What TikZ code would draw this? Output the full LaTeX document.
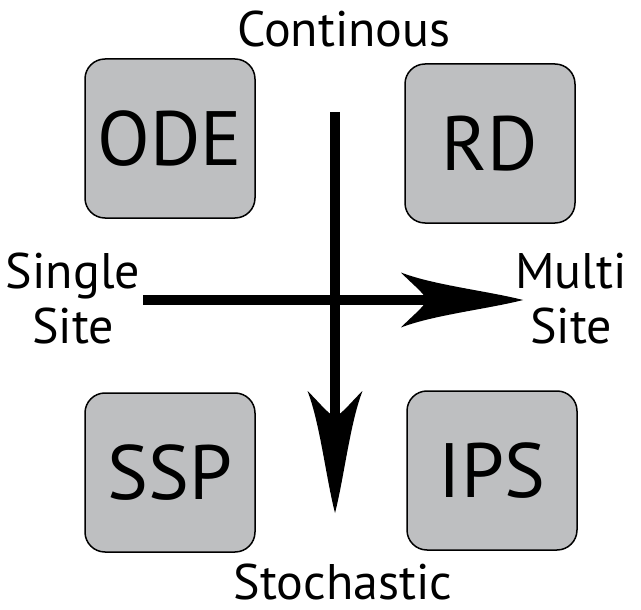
\documentclass[tikz,border=0pt]{standalone}
\usepackage{fontspec}
\setmainfont{PT Sans}
\usetikzlibrary{arrows.meta}

\definecolor{boxgray}{RGB}{190,191,193}

% barbed arrow head, tip at the origin
\pgfdeclarearrow{
  name = Barb,
  setup code = {
    \pgfarrowssettipend{0pt}
    \pgfarrowssetlineend{-96pt}
    \pgfarrowssetbackend{-122pt}
    \pgfarrowssetvisualbackend{-96pt}
    \pgfarrowshullpoint{0pt}{0pt}
    \pgfarrowshullpoint{-122pt}{27.5pt}
    \pgfarrowshullpoint{-122pt}{-27.5pt}
  },
  drawing code = {
    \pgfpathmoveto{\pgfpointorigin}
    \pgfpathcurveto{\pgfpoint{-35pt}{9pt}}{\pgfpoint{-90pt}{15pt}}{\pgfpoint{-122pt}{27.5pt}}
    \pgfpathcurveto{\pgfpoint{-112pt}{17pt}}{\pgfpoint{-100pt}{8pt}}{\pgfpoint{-96pt}{0pt}}
    \pgfpathcurveto{\pgfpoint{-100pt}{-8pt}}{\pgfpoint{-112pt}{-17pt}}{\pgfpoint{-122pt}{-27.5pt}}
    \pgfpathcurveto{\pgfpoint{-90pt}{-15pt}}{\pgfpoint{-35pt}{-9pt}}{\pgfpointorigin}
    \pgfusepathqfill
  },
}

\begin{document}
\begin{tikzpicture}[x=1pt, y=-1pt,
    quad/.style={draw, fill=boxgray, rounded corners=20pt, line width=1.5pt,
      minimum width=170pt, minimum height=159pt, inner sep=0pt,
      font=\fontsize{77}{77}\selectfont},
    axislabel/.style={inner sep=0pt, align=center, font=\fontsize{50}{55}\selectfont},
    axis/.style={line width=10pt, -Barb}]
    \useasboundingbox (0, 0) rectangle (641, 610);

    % Model boxes
    \node[quad] (ode) at (170, 138.5) {ODE};
    \node[quad] (rd) at (490, 143.5) {RD};
    \node[quad] (ssp) at (170, 472.5) {SSP};
    \node[quad] (ips) at (492, 470.5) {IPS};

    % Axis ends
    \coordinate (top) at (335, 112);
    \coordinate (bottom) at (335, 513);
    \coordinate (left) at (143, 300);
    \coordinate (right) at (523, 300);

    % Axes
    \draw[axis] (top) -- (bottom);
    \draw[axis] (left) -- (right);

    % Axis labels
    \node[axislabel, anchor=base] (cont) at (344, 47) {Continous};
    \node[axislabel, anchor=base] (stoch) at (343, 599) {Stochastic};
    \node[axislabel, anchor=base] (single) at (73, 343) {Single\\Site};
    \node[axislabel, anchor=base] (multi) at (571, 343) {Multi\\Site};
\end{tikzpicture}
\end{document}
